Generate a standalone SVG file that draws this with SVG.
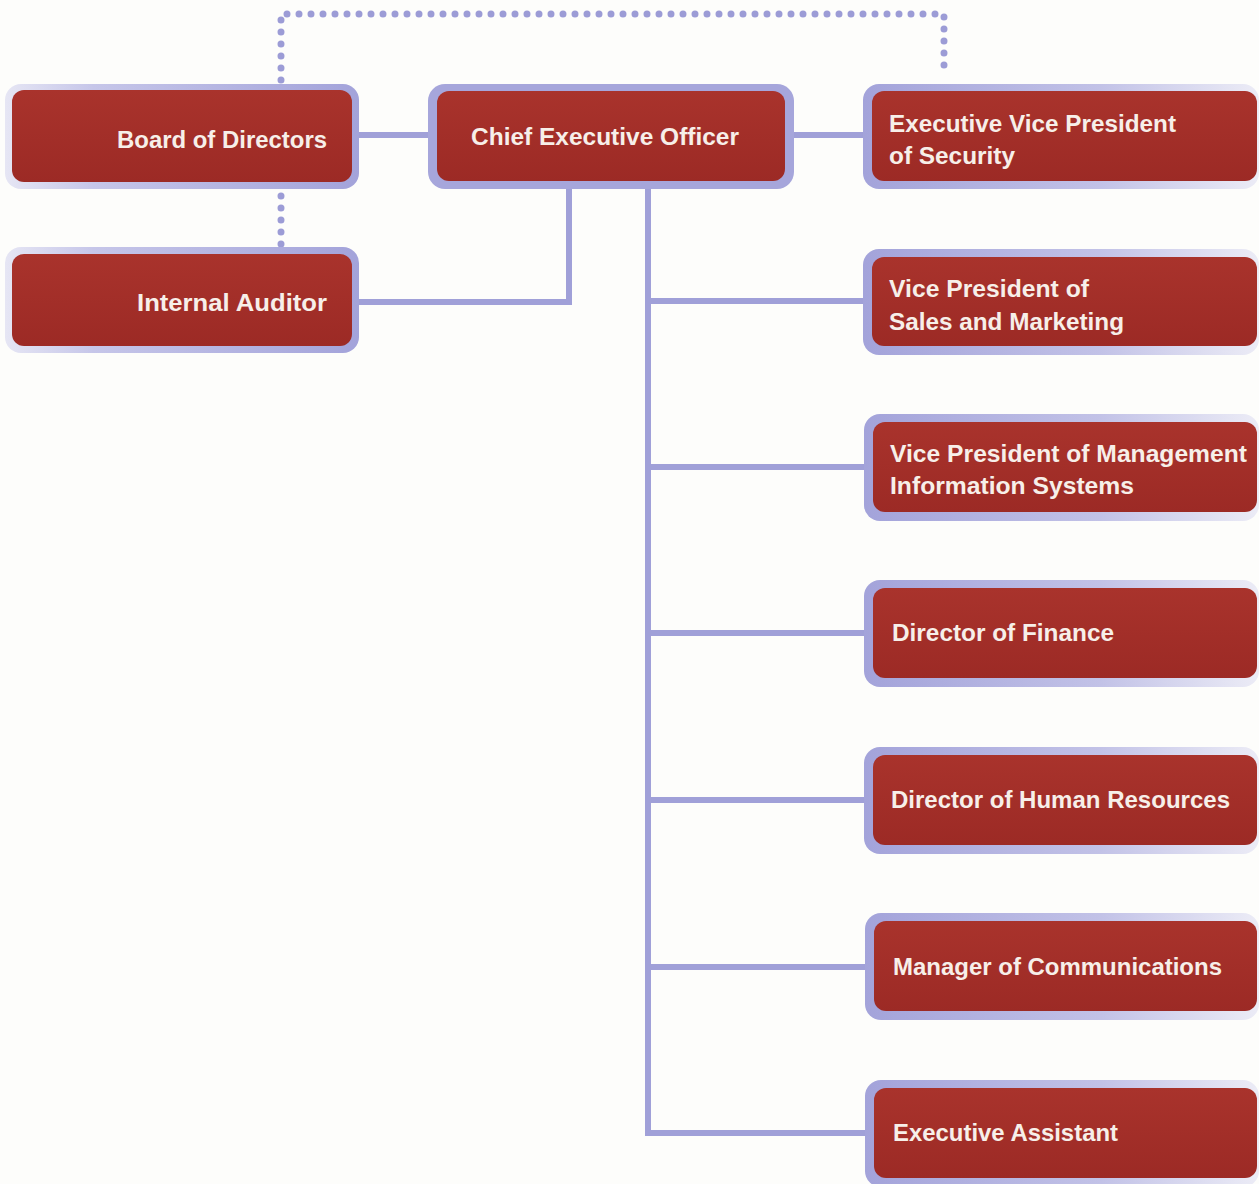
<svg xmlns="http://www.w3.org/2000/svg" width="1259" height="1184" viewBox="0 0 1259 1184">
<defs>
<linearGradient id="lavL" x1="0" y1="0" x2="1" y2="0">
<stop offset="0" stop-color="#e6e6f4"/>
<stop offset="0.25" stop-color="#c6c6e9"/>
<stop offset="1" stop-color="#a3a3da"/>
</linearGradient>
<linearGradient id="lavR" x1="0" y1="0" x2="1" y2="0">
<stop offset="0" stop-color="#a3a3da"/>
<stop offset="0.6" stop-color="#c2c2e7"/>
<stop offset="1" stop-color="#ececf6"/>
</linearGradient>
<linearGradient id="red" x1="0" y1="0" x2="0" y2="1">
<stop offset="0" stop-color="#a9332c"/>
<stop offset="1" stop-color="#9c2a25"/>
</linearGradient>
</defs>
<style>
.bg{fill:#fdfdfb}
.box{fill:url(#red)}
.lavL{fill:url(#lavL)}
.lavR{fill:url(#lavR)}
.lav{fill:#a6a6db}
.t{font-family:"Liberation Sans",Arial,sans-serif;font-weight:bold;font-size:24px;fill:#f7efe9}
.c{fill:none;stroke:#a0a0d8;stroke-width:6}
.d{fill:none;stroke:#9c9cd6;stroke-width:7;stroke-linecap:round;stroke-dasharray:0 12}
</style>
<rect class="bg" x="0" y="0" width="1259" height="1184"/>

<g id="connectors">
<path class="d" d="M281,80 V14 H944 V75"/>
<path class="d" d="M281,196 V245"/>
<path class="c" d="M356,135 H432"/>
<path class="c" d="M790,135 H866"/>
<path class="c" d="M569,186 V302 H356"/>
<path class="c" d="M648,186 V1133 H868"/>
<path class="c" d="M648,301 H868"/>
<path class="c" d="M648,467 H868"/>
<path class="c" d="M648,633 H868"/>
<path class="c" d="M648,800 H868"/>
<path class="c" d="M648,967 H868"/>
</g>

<g id="board">
<rect class="lavL" x="5" y="84" width="354" height="105" rx="16"/>
<rect class="box" x="12" y="90" width="340" height="92" rx="12"/>
<text class="t" x="327" y="148" text-anchor="end" textLength="210" lengthAdjust="spacingAndGlyphs">Board of Directors</text>
</g>

<g id="auditor">
<rect class="lavL" x="5" y="247" width="354" height="106" rx="16"/>
<rect class="box" x="12" y="254" width="340" height="92" rx="12"/>
<text class="t" x="327" y="311" text-anchor="end" textLength="190" lengthAdjust="spacingAndGlyphs">Internal Auditor</text>
</g>

<g id="ceo">
<rect class="lav" x="428" y="84" width="366" height="105" rx="17"/>
<rect class="box" x="437" y="91" width="348" height="90" rx="12"/>
<text class="t" x="471" y="145" textLength="268" lengthAdjust="spacingAndGlyphs">Chief Executive Officer</text>
</g>

<g id="evp-security">
<rect class="lavR" x="863" y="84" width="396" height="105" rx="16"/>
<rect class="box" x="872" y="91" width="385" height="90" rx="12"/>
<text class="t" x="889" y="132" textLength="287" lengthAdjust="spacingAndGlyphs">Executive Vice President</text>
<text class="t" x="889" y="164" textLength="126" lengthAdjust="spacingAndGlyphs">of Security</text>
</g>

<g id="vp-sales">
<rect class="lavR" x="863" y="249" width="396" height="106" rx="16"/>
<rect class="box" x="872" y="257" width="385" height="89" rx="12"/>
<text class="t" x="889" y="297" textLength="200" lengthAdjust="spacingAndGlyphs">Vice President of</text>
<text class="t" x="889" y="330" textLength="235" lengthAdjust="spacingAndGlyphs">Sales and Marketing</text>
</g>

<g id="vp-mis">
<rect class="lavR" x="864" y="414" width="395" height="107" rx="16"/>
<rect class="box" x="873" y="422" width="384" height="90" rx="12"/>
<text class="t" x="890" y="462" textLength="357" lengthAdjust="spacingAndGlyphs">Vice President of Management</text>
<text class="t" x="890" y="494" textLength="244" lengthAdjust="spacingAndGlyphs">Information Systems</text>
</g>

<g id="dir-finance">
<rect class="lavR" x="864" y="580" width="395" height="107" rx="16"/>
<rect class="box" x="873" y="588" width="384" height="90" rx="12"/>
<text class="t" x="892" y="641" textLength="222" lengthAdjust="spacingAndGlyphs">Director of Finance</text>
</g>

<g id="dir-hr">
<rect class="lavR" x="864" y="747" width="395" height="107" rx="16"/>
<rect class="box" x="873" y="755" width="384" height="90" rx="12"/>
<text class="t" x="891" y="808" textLength="339" lengthAdjust="spacingAndGlyphs">Director of Human Resources</text>
</g>

<g id="mgr-comm">
<rect class="lavR" x="865" y="913" width="394" height="107" rx="16"/>
<rect class="box" x="874" y="921" width="383" height="90" rx="12"/>
<text class="t" x="893" y="975" textLength="329" lengthAdjust="spacingAndGlyphs">Manager of Communications</text>
</g>

<g id="exec-assistant">
<rect class="lavR" x="865" y="1080" width="394" height="107" rx="16"/>
<rect class="box" x="874" y="1088" width="383" height="90" rx="12"/>
<text class="t" x="893" y="1141" textLength="225" lengthAdjust="spacingAndGlyphs">Executive Assistant</text>
</g>
</svg>
